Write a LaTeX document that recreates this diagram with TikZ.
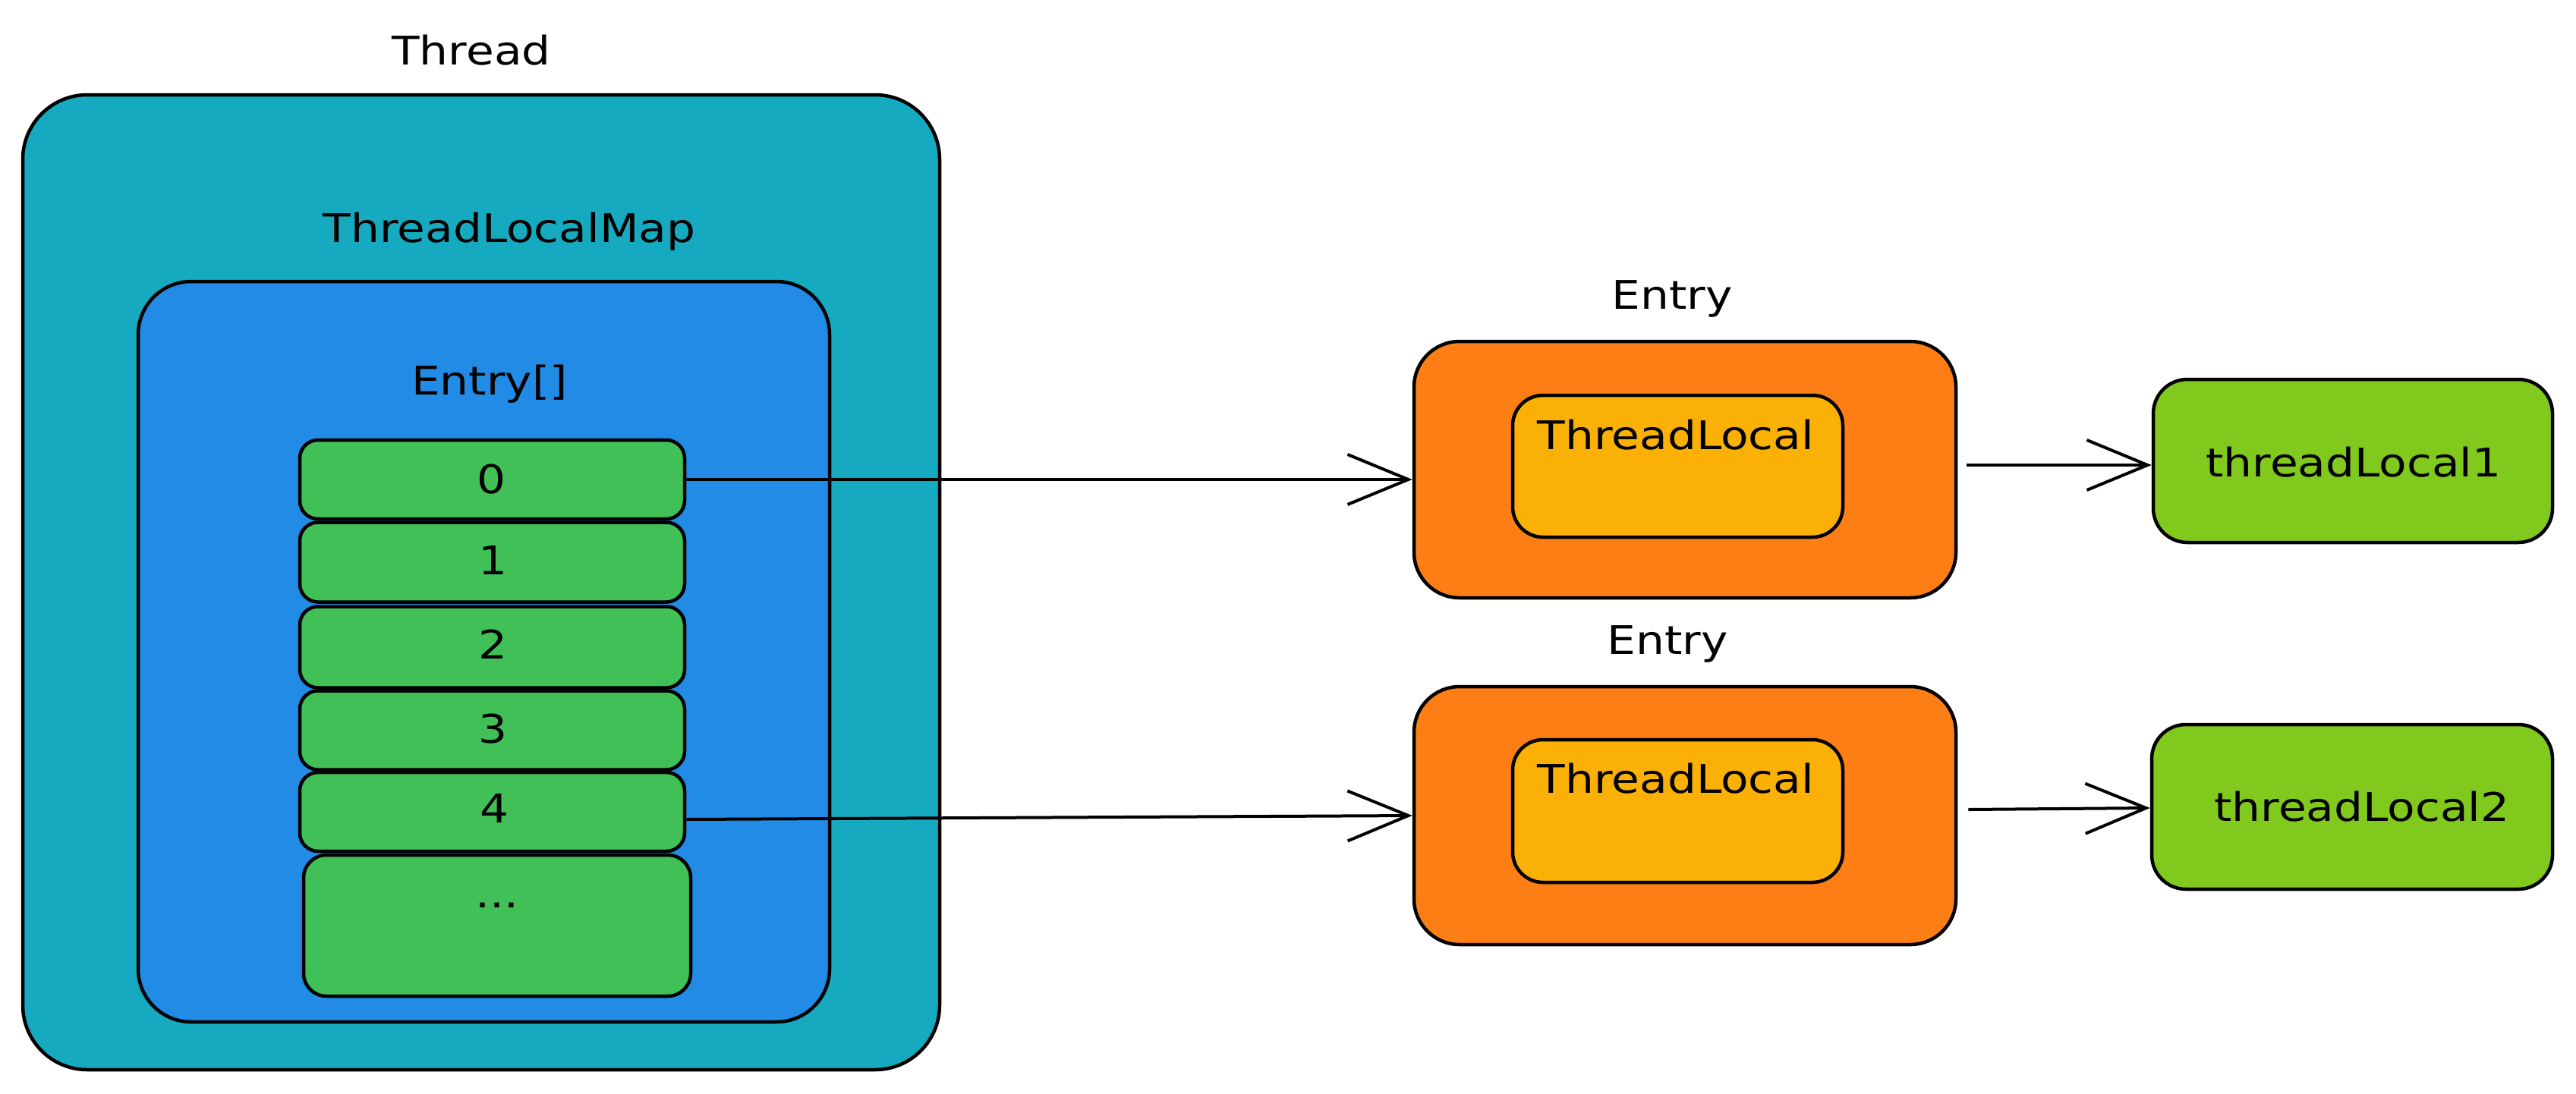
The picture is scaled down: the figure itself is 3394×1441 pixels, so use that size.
\documentclass[tikz,border=0pt]{standalone}
\usepackage{fontspec}
\setmainfont{DejaVu Sans}[FakeStretch=1.15]
\usetikzlibrary{arrows.meta}
\definecolor{cteal}{HTML}{15AABF}
\definecolor{cblue}{HTML}{228BE6}
\definecolor{cgreen}{HTML}{40C057}
\definecolor{corange}{HTML}{FD7E14}
\definecolor{cyellow}{HTML}{FAB005}
\definecolor{clime}{HTML}{82C91E}
\begin{document}
\begin{tikzpicture}[x=1pt,y=-1pt,
  box/.style={draw=black, line width=4.5pt, inner sep=0pt, rounded corners=#1},
  lbl/.style={font=\fontsize{52}{62}\selectfont, anchor=base, inner sep=0pt},
  arr/.style={line width=4pt, -{Straight Barb[length=80pt,width=66pt,line width=4pt]}}]
\useasboundingbox (0,0) rectangle (3394,1441);
% Thread
\node[box=85pt, fill=cteal, minimum width=1208pt, minimum height=1285pt] (thread) at (634,767.5) {};
\node[lbl] (threadlbl) at (621,85) {Thread};
% ThreadLocalMap
\node[box=70pt, fill=cblue, minimum width=911pt, minimum height=976pt] (map) at (637.5,859) {};
\node[lbl] (maplbl) at (671,319) {ThreadLocalMap};
\node[lbl] (arrlbl) at (645,520) {Entry[]};
% cells
\node[box=24pt, fill=cgreen, minimum width=507pt, minimum height=104pt] (c0) at (648.5,632) {};
\node[box=24pt, fill=cgreen, minimum width=507pt, minimum height=105pt] (c1) at (648.5,741) {};
\node[box=24pt, fill=cgreen, minimum width=507pt, minimum height=107pt] (c2) at (648.5,853) {};
\node[box=24pt, fill=cgreen, minimum width=507pt, minimum height=104pt] (c3) at (648.5,962.5) {};
\node[box=24pt, fill=cgreen, minimum width=507pt, minimum height=104pt] (c4) at (648.5,1070) {};
\node[box=30pt, fill=cgreen, minimum width=510pt, minimum height=186pt] (c5) at (655,1220) {};
\node[lbl] (t0) at (648,650) {0};
\node[lbl] (t1) at (650,757) {1};
\node[lbl] (t2) at (650,868) {2};
\node[lbl] (t3) at (650,979) {3};
\node[lbl] (t4) at (652,1084) {4};
\node[lbl] (t5) at (655,1196) {...};
% Entries
\node[box=60pt, fill=corange, minimum width=714pt, minimum height=338pt] (e1) at (2220,619) {};
\node[box=40pt, fill=cyellow, minimum width=435pt, minimum height=187pt] (i1) at (2210.5,614.5) {};
\node[lbl] (e1lbl) at (2203,407) {Entry};
\node[lbl] (i1lbl) at (2208,592) {ThreadLocal};
\node[box=60pt, fill=corange, minimum width=714pt, minimum height=340pt] (e2) at (2220,1075) {};
\node[box=40pt, fill=cyellow, minimum width=435pt, minimum height=188pt] (i2) at (2210.5,1069) {};
\node[lbl] (e2lbl) at (2197,862) {Entry};
\node[lbl] (i2lbl) at (2208,1045) {ThreadLocal};
% threadLocal values
\node[box=45pt, fill=clime, minimum width=526pt, minimum height=215pt] (v1) at (3100,607.5) {};
\node[lbl] (v1lbl) at (3101,628) {threadLocal1};
\node[box=45pt, fill=clime, minimum width=528pt, minimum height=217pt] (v2) at (3099,1063.5) {};
\node[lbl] (v2lbl) at (3112,1082) {threadLocal2};
% arrows
\draw[arr] (c0.east) -- (c0.east -| e1.west);
\draw[arr] ([yshift=-10pt]c4.east) -- (e2.west);
\draw[arr] ([xshift=12pt,yshift=6pt]e1.east) -- ([yshift=-5.5pt]v1.west);
\draw[arr] ([xshift=14pt,yshift=8pt]e2.east) -- ([yshift=-1.5pt]v2.west);
\end{tikzpicture}
\end{document}
